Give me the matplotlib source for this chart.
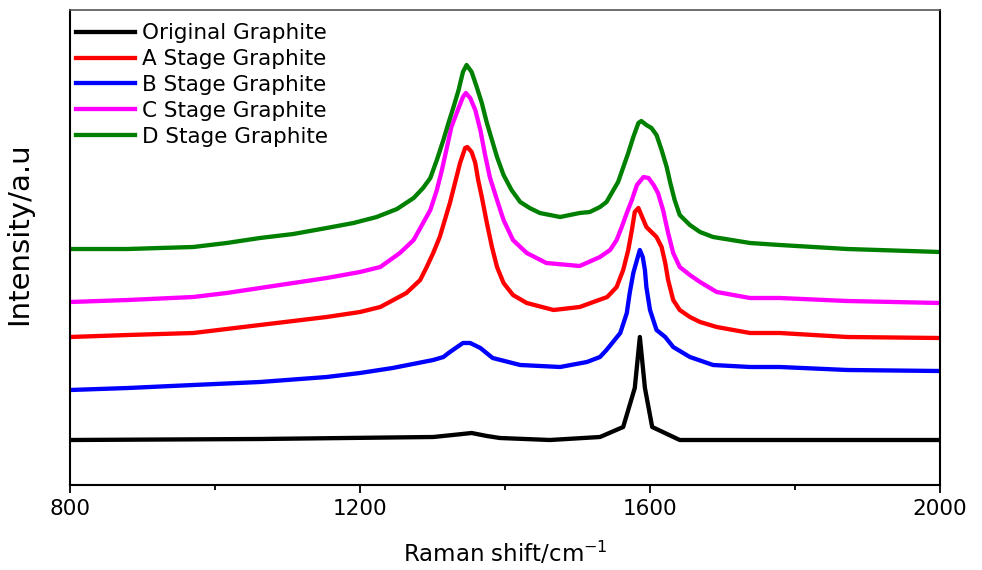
"""Raman spectra of original and staged graphite samples."""

from __future__ import annotations

import matplotlib

matplotlib.use("Agg")
import matplotlib.pyplot as plt
from matplotlib.ticker import FixedLocator, NullLocator

# Raman shift (cm^-1) and intensity (a.u., offset per trace)
orig_x = [800, 1062, 1301, 1328, 1354, 1375, 1393, 1462, 1531, 1563, 1579,
          1586, 1593, 1603, 1641, 1738, 2000]
orig_y = [45, 46, 48, 50, 52, 49, 47, 45, 48, 58, 97, 148, 97, 58, 45, 45, 45]

a_x = [800, 880, 970, 1062, 1154, 1200, 1228, 1264, 1283, 1292, 1301, 1310,
       1317, 1324, 1331, 1338, 1345, 1348, 1354, 1359, 1363, 1368, 1375, 1382,
       1389, 1398, 1411, 1430, 1467, 1503, 1541, 1554, 1563, 1570, 1575, 1579,
       1584, 1588, 1595, 1602, 1609, 1616, 1621, 1625, 1632, 1641, 1655, 1669,
       1692, 1738, 1779, 1872, 2000]
a_y = [148, 150, 152, 160, 168, 173, 178, 192, 205, 218, 232, 248,
       265, 282, 302, 322, 337, 338, 333, 322, 305, 288, 262, 238,
       218, 202, 190, 182, 175, 178, 188, 198, 215, 235, 255, 273,
       277, 270, 258, 253, 248, 238, 222, 205, 185, 175, 168, 163,
       158, 152, 152, 148, 147]

b_x = [800, 880, 970, 1062, 1154, 1200, 1245, 1301, 1315, 1324, 1342, 1352,
       1366, 1383, 1421, 1476, 1513, 1531, 1540, 1559, 1568, 1572, 1577, 1582,
       1586, 1590, 1593, 1595, 1600, 1609, 1621, 1632, 1655, 1687, 1738, 1779,
       1872, 2000]
b_y = [95, 97, 100, 103, 108, 112, 117, 125, 128, 133, 142, 142,
       137, 127, 120, 118, 123, 128, 135, 152, 172, 192, 212, 225,
       235, 228, 215, 198, 175, 155, 148, 138, 128, 120, 118, 118,
       115, 114]

c_x = [800, 880, 970, 1016, 1062, 1108, 1154, 1200, 1228, 1255, 1274, 1287,
       1297, 1306, 1313, 1320, 1326, 1336, 1342, 1346, 1352, 1359, 1366, 1372,
       1379, 1389, 1398, 1411, 1430, 1457, 1503, 1531, 1545, 1554, 1561, 1568,
       1575, 1582, 1591, 1598, 1605, 1611, 1618, 1625, 1632, 1641, 1655, 1669,
       1692, 1738, 1779, 1872, 2000]
c_y = [183, 185, 188, 192, 197, 202, 207, 213, 218, 232, 245, 262,
       275, 295, 315, 338, 358, 377, 388, 392, 387, 375, 355, 332,
       308, 285, 265, 245, 232, 222, 219, 228, 235, 245, 258, 272,
       285, 300, 308, 307, 300, 292, 275, 252, 232, 218, 210, 203,
       193, 187, 187, 184, 182]

d_x = [800, 880, 924, 970, 1016, 1062, 1108, 1154, 1191, 1223, 1251, 1274,
       1287, 1297, 1306, 1315, 1322, 1329, 1336, 1342, 1347, 1354, 1361, 1368,
       1375, 1382, 1389, 1398, 1409, 1421, 1434, 1448, 1476, 1503, 1517, 1531,
       1540, 1556, 1570, 1577, 1584, 1588, 1595, 1602, 1609, 1616, 1623, 1628,
       1634, 1641, 1655, 1669, 1687, 1738, 1779, 1872, 2000]
d_y = [236, 236, 237, 238, 242, 247, 251, 257, 262, 268, 276, 287,
       297, 307, 325, 345, 362, 378, 395, 413, 420, 413, 398, 382,
       362, 345, 328, 310, 295, 283, 277, 272, 268, 272, 273, 278,
       283, 303, 332, 348, 362, 364, 360, 357, 350, 335, 318, 302,
       285, 270, 260, 253, 248, 242, 240, 236, 233]

labels = ["Original Graphite", "A Stage Graphite", "B Stage Graphite",
          "C Stage Graphite", "D Stage Graphite"]
colors = ["#000000", "#ff0000", "#0000ff", "#ff00ff", "#008000"]
major_ticks = [800, 1200, 1600, 2000]
minor_ticks = [1000, 1400, 1800]


def main() -> None:
    plt.rcParams["font.family"] = ["DejaVu Sans"]
    plt.rcParams["mathtext.default"] = "regular"

    fig = plt.figure(figsize=(9.82, 5.70), dpi=100)
    ax = fig.add_axes([70 / 982, 1 - 485 / 570, 870 / 982, 475 / 570])

    series = [(orig_x, orig_y), (a_x, a_y), (b_x, b_y), (c_x, c_y), (d_x, d_y)]
    for (xs, ys), label, color in zip(series, labels, colors):
        ax.plot(xs, ys, color=color, lw=3.1, label=label,
                solid_joinstyle="round")

    ax.set_xlim(800, 2000)
    ax.set_ylim(0, 475)
    ax.xaxis.set_major_locator(FixedLocator(major_ticks))
    ax.xaxis.set_minor_locator(FixedLocator(minor_ticks))
    ax.yaxis.set_major_locator(NullLocator())
    ax.tick_params(axis="x", which="major", direction="out", length=6,
                   width=1.3, pad=4, labelsize=15.5)
    ax.tick_params(axis="x", which="minor", direction="out", length=3.5,
                   width=1.3)

    for side in ("left", "bottom", "right"):
        ax.spines[side].set_linewidth(1.5)
    ax.spines["top"].set_linewidth(1.2)
    ax.spines["top"].set_color("#555555")

    ax.set_xlabel("Raman shift/cm$^{-1}$", fontsize=16.5, labelpad=15)
    ax.set_ylabel("Intensity/a.u", fontsize=21)
    ax.yaxis.set_label_coords(-0.042, 0.53)

    leg = ax.legend(loc="upper left", bbox_to_anchor=(0.007, 0.972),
                    frameon=False, fontsize=15.5, handlelength=2.75,
                    handletextpad=0.3, labelspacing=0.27, borderpad=0,
                    borderaxespad=0)
    for line in leg.get_lines():
        line.set_linewidth(3.1)

    fig.savefig("out.png", dpi=100)


if __name__ == "__main__":
    main()
